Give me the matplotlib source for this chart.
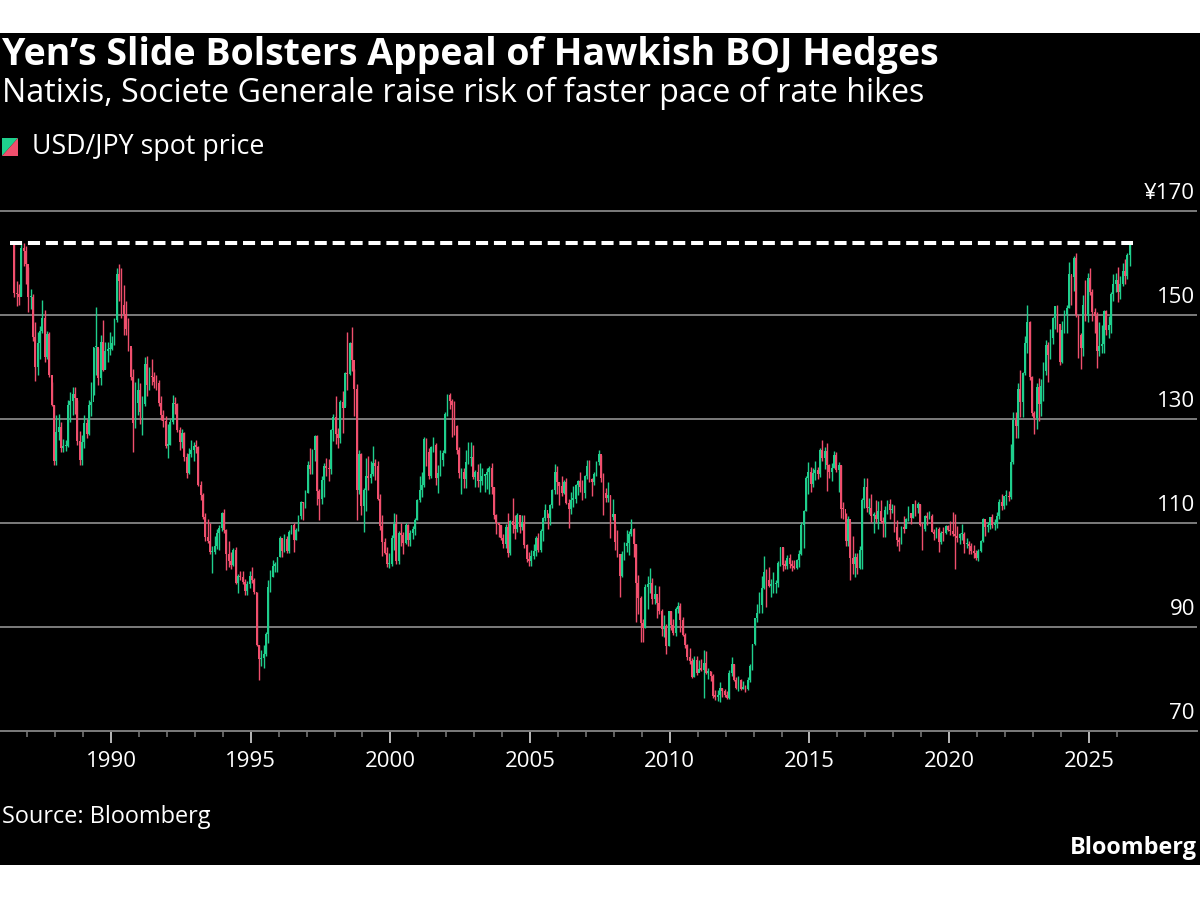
import numpy as np
import matplotlib
matplotlib.use("Agg")
import matplotlib.pyplot as plt
from matplotlib.patches import Rectangle, Polygon
import matplotlib.transforms as mtransforms

# ---------------- data (monthly USD/JPY candles, Jul 1986 - Jun 2026) ----------------
start_year, start_month = 1986, 7
first_open = 163.5

closes = [
    # 1986 (Jul-Dec)
    154.2, 154.0, 153.4, 162.9, 162.4, 159.8,
    # 1987
    153.4, 153.5, 145.8, 140.0, 144.6, 147.0, 149.4, 142.0, 146.4, 138.4, 132.7, 121.9,
    # 1988
    127.5, 128.4, 124.5, 124.8, 124.9, 132.6, 133.5, 134.9, 134.0, 125.7, 122.2, 125.6,
    # 1989
    129.2, 127.2, 132.6, 133.3, 143.8, 143.9, 137.9, 144.8, 139.4, 143.0, 143.4, 143.5,
    # 1990
    144.7, 149.0, 157.9, 156.5, 152.0, 150.2, 147.4, 144.1, 138.0, 129.3, 133.0, 135.5,
    # 1991
    131.4, 132.9, 140.6, 136.6, 138.3, 138.0, 137.2, 137.0, 133.1, 130.7, 129.6, 124.9,
    # 1992
    125.0, 129.5, 133.0, 132.9, 127.8, 125.6, 127.4, 122.6, 119.6, 123.3, 124.1, 124.8,
    # 1993
    124.7, 117.4, 115.4, 111.1, 107.4, 106.5, 104.4, 104.4, 105.5, 108.1, 109.1, 111.9,
    # 1994
    108.7, 104.0, 102.7, 101.9, 104.8, 98.5, 99.8, 99.6, 98.6, 96.9, 98.3, 99.8,
    # 1995
    99.0, 96.7, 86.6, 83.8, 84.0, 84.8, 88.7, 97.6, 99.7, 101.8, 101.8, 103.4,
    # 1996
    107.1, 104.7, 107.0, 104.6, 108.3, 109.6, 106.8, 108.6, 111.4, 114.0, 113.8, 115.8,
    # 1997
    121.2, 120.3, 124.1, 126.8, 116.1, 114.6, 118.3, 121.0, 120.5, 120.4, 127.8, 130.4,
    # 1998
    127.1, 126.4, 133.3, 132.1, 138.8, 138.6, 144.7, 141.4, 135.8, 116.4, 123.3, 113.3,
    # 1999
    116.3, 119.0, 118.6, 119.4, 121.5, 121.0, 114.6, 109.5, 106.4, 104.2, 102.1, 102.1,
    # 2000
    107.2, 109.9, 102.7, 108.1, 107.6, 106.1, 109.7, 106.7, 108.1, 108.9, 110.5, 114.4,
    # 2001
    116.4, 117.4, 126.1, 123.6, 119.0, 124.7, 125.0, 118.7, 119.6, 122.2, 123.5, 131.0,
    # 2002
    134.7, 133.5, 132.7, 128.6, 124.0, 119.6, 119.9, 118.4, 121.8, 122.5, 122.6, 118.8,
    # 2003
    119.8, 118.0, 118.1, 119.1, 119.3, 119.8, 120.5, 116.9, 111.5, 110.0, 109.6, 107.2,
    # 2004
    106.0, 109.2, 104.2, 110.4, 109.6, 108.8, 111.6, 109.3, 110.1, 105.8, 103.1, 102.6,
    # 2005
    103.6, 104.6, 107.2, 104.9, 108.5, 110.9, 112.5, 110.9, 113.5, 116.4, 119.8, 117.8,
    # 2006
    117.2, 115.8, 117.8, 113.8, 112.6, 114.5, 114.6, 117.3, 118.1, 116.9, 115.8, 119.0,
    # 2007
    121.0, 118.5, 117.8, 119.5, 121.7, 123.2, 118.6, 115.8, 114.8, 115.3, 111.2, 111.7,
    # 2008
    106.4, 104.0, 99.8, 104.0, 105.6, 106.2, 107.9, 108.8, 106.0, 98.4, 95.5, 90.8,
    # 2009
    89.9, 97.6, 98.3, 98.5, 95.4, 96.4, 94.7, 93.0, 89.7, 90.2, 86.4, 93.0,
    # 2010
    90.3, 88.9, 93.5, 94.0, 91.3, 88.4, 86.5, 84.2, 83.5, 80.4, 83.7, 81.1,
    # 2011
    82.0, 81.8, 83.1, 81.2, 81.5, 80.6, 76.8, 76.6, 77.0, 78.2, 77.6, 76.9,
    # 2012
    76.3, 81.2, 82.9, 79.8, 78.3, 79.8, 78.1, 78.4, 78.0, 79.9, 82.5, 86.7,
    # 2013
    91.7, 92.6, 94.2, 97.5, 100.5, 99.1, 97.9, 98.2, 98.3, 98.4, 102.4, 105.3,
    # 2014
    102.0, 101.8, 103.2, 102.2, 101.8, 101.3, 102.8, 104.1, 109.7, 112.3, 118.6, 119.8,
    # 2015
    117.5, 119.6, 120.1, 119.4, 124.1, 122.5, 123.9, 121.2, 119.9, 120.6, 123.1, 120.2,
    # 2016
    121.1, 112.7, 112.6, 106.5, 110.7, 103.2, 102.1, 103.4, 101.4, 104.8, 114.5, 116.9,
    # 2017
    112.8, 112.8, 111.4, 111.5, 110.8, 112.4, 110.3, 110.0, 112.5, 113.6, 112.5, 112.7,
    # 2018
    109.2, 106.7, 106.3, 109.3, 108.8, 110.8, 111.9, 111.0, 113.7, 112.9, 113.6, 109.7,
    # 2019
    108.9, 111.4, 110.9, 111.4, 108.3, 107.9, 108.8, 106.3, 108.1, 108.0, 109.5, 108.6,
    # 2020
    108.4, 107.9, 107.5, 107.2, 107.8, 107.9, 105.9, 105.9, 105.5, 104.7, 104.3, 103.3,
    # 2021
    104.7, 106.6, 110.7, 109.3, 109.6, 111.1, 109.7, 110.0, 111.3, 114.0, 113.2, 115.1,
    # 2022
    115.1, 115.0, 121.7, 129.8, 128.7, 135.7, 133.3, 138.9, 144.7, 148.7, 138.1, 131.1,
    # 2023
    130.1, 136.2, 132.9, 136.3, 139.3, 144.3, 142.3, 145.5, 149.4, 151.7, 148.2, 141.0,
    # 2024
    147.2, 150.0, 151.3, 157.8, 157.3, 160.9, 150.0, 146.2, 143.6, 152.0, 149.8, 157.2,
    # 2025
    154.5, 150.6, 149.9, 143.1, 144.0, 144.5, 150.8, 147.1, 148.0, 154.0, 156.0, 156.8,
    # 2026 (Jan-Jun)
    154.5, 156.0, 158.5, 157.5, 161.5, 163.8,
]

highs = [
    # 1986
    163.8, 156.5, 156.0, 163.6, 163.9, 163.2,
    # 1987
    159.3, 155.0, 154.0, 148.6, 146.8, 147.8, 152.9, 151.0, 147.0, 146.8, 137.2, 132.7,
    # 1988
    130.8, 131.0, 129.5, 126.2, 126.0, 133.7, 135.2, 136.2, 136.2, 133.7, 127.6, 127.0,
    # 1989
    130.8, 130.0, 133.7, 137.2, 143.9, 151.6, 143.6, 146.2, 149.1, 144.9, 144.9, 146.8,
    # 1990
    146.0, 149.4, 159.0, 159.9, 159.0, 155.8, 152.6, 149.4, 143.6, 139.7, 137.2, 137.8,
    # 1991
    137.0, 134.5, 142.0, 142.2, 140.0, 141.5, 139.0, 138.5, 137.5, 134.5, 131.8, 130.5,
    # 1992
    129.0, 130.0, 134.7, 134.3, 133.0, 128.5, 128.0, 127.5, 123.5, 124.5, 126.0, 125.5,
    # 1993
    125.9, 124.9, 118.0, 115.8, 112.0, 110.7, 110.0, 105.6, 107.5, 108.8, 109.7, 112.2,
    # 1994
    112.7, 108.9, 106.5, 104.5, 105.2, 105.4, 100.2, 100.8, 100.7, 99.2, 98.8, 100.8,
    # 1995
    101.5, 99.5, 96.8, 86.6, 85.5, 86.5, 89.0, 99.0, 101.0, 102.8, 102.5, 103.5,
    # 1996
    107.5, 107.0, 107.9, 107.5, 108.7, 109.7, 110.0, 109.0, 111.5, 114.3, 114.0, 116.3,
    # 1997
    122.0, 124.5, 124.2, 127.0, 127.0, 116.5, 119.0, 121.5, 122.5, 122.3, 128.0, 131.0,
    # 1998
    134.4, 128.3, 133.7, 135.3, 139.0, 146.8, 144.9, 147.6, 139.6, 136.8, 124.0, 123.5,
    # 1999
    116.8, 122.5, 122.8, 122.0, 124.8, 122.3, 122.0, 115.6, 111.6, 107.2, 105.4, 104.2,
    # 2000
    107.6, 112.0, 111.8, 108.4, 110.0, 108.2, 110.0, 109.9, 108.6, 109.5, 111.0, 114.6,
    # 2001
    119.0, 119.9, 126.6, 126.4, 124.4, 124.9, 126.6, 125.3, 121.2, 124.0, 124.0, 131.3,
    # 2002
    134.8, 135.0, 133.8, 133.5, 128.8, 124.7, 120.5, 120.5, 124.0, 125.5, 125.5, 125.0,
    # 2003
    120.2, 121.3, 121.5, 120.5, 119.5, 120.5, 121.0, 121.6, 117.0, 111.8, 110.0, 109.7,
    # 2004
    107.8, 109.8, 112.0, 110.6, 114.9, 111.6, 112.0, 111.5, 111.6, 111.6, 106.0, 104.4,
    # 2005
    104.9, 106.0, 107.5, 108.0, 108.8, 111.2, 113.7, 112.0, 113.7, 116.6, 121.4, 121.0,
    # 2006
    117.9, 119.0, 118.2, 118.7, 114.6, 116.0, 117.1, 117.5, 118.3, 119.9, 118.2, 119.2,
    # 2007
    122.2, 122.2, 118.6, 119.9, 121.9, 124.1, 123.0, 119.6, 116.7, 117.9, 115.4, 114.7,
    # 2008
    109.7, 108.6, 104.0, 104.7, 106.4, 108.7, 108.5, 110.7, 109.0, 106.0, 100.0, 96.0,
    # 2009
    91.5, 98.2, 99.8, 101.4, 99.4, 98.0, 95.7, 97.8, 93.4, 92.3, 90.6, 93.0,
    # 2010
    93.0, 91.5, 93.8, 94.8, 94.7, 92.0, 88.9, 86.7, 85.9, 84.0, 84.4, 84.5,
    # 2011
    83.7, 83.8, 85.5, 85.4, 82.2, 81.6, 81.0, 77.9, 77.9, 79.5, 78.3, 78.1,
    # 2012
    77.6, 81.7, 84.2, 82.9, 80.4, 80.6, 80.0, 79.7, 78.8, 80.4, 82.8, 86.8,
    # 2013
    91.8, 94.5, 96.7, 99.9, 103.7, 101.2, 101.5, 99.2, 100.6, 99.0, 102.6, 105.4,
    # 2014
    105.4, 102.8, 103.8, 104.1, 102.8, 102.8, 103.1, 104.8, 110.1, 112.5, 119.0, 121.8,
    # 2015
    120.8, 120.5, 122.0, 120.8, 124.5, 125.9, 124.6, 125.3, 121.3, 121.5, 123.8, 123.6,
    # 2016
    121.7, 121.1, 114.0, 112.0, 111.4, 110.0, 107.5, 104.3, 104.2, 105.5, 114.8, 118.7,
    # 2017
    118.6, 114.9, 115.5, 112.2, 114.4, 114.2, 114.5, 111.1, 113.3, 114.5, 114.7, 113.7,
    # 2018
    113.4, 110.5, 107.3, 109.5, 111.4, 110.9, 113.2, 111.8, 113.7, 114.5, 114.0, 113.7,
    # 2019
    110.0, 111.5, 112.1, 112.4, 111.7, 108.8, 109.3, 109.3, 108.5, 109.3, 109.7, 109.7,
    # 2020
    110.3, 112.2, 111.7, 109.4, 108.1, 109.9, 108.2, 107.1, 106.6, 106.1, 105.7, 104.8,
    # 2021
    105.0, 106.7, 110.9, 110.0, 110.2, 111.1, 111.7, 110.8, 112.1, 114.7, 115.5, 115.2,
    # 2022
    116.3, 116.2, 125.1, 131.3, 131.3, 137.0, 139.4, 139.1, 145.9, 151.9, 148.8, 138.2,
    # 2023
    131.6, 136.9, 137.9, 137.6, 140.9, 145.1, 144.9, 147.4, 149.7, 151.7, 151.9, 148.0,
    # 2024
    148.8, 150.9, 151.9, 160.2, 157.7, 161.3, 161.9, 150.0, 146.5, 153.9, 156.8, 158.1,
    # 2025
    159.0, 155.0, 151.3, 150.5, 148.6, 148.0, 151.0, 150.9, 149.9, 154.5, 157.9, 158.0,
    # 2026
    159.2, 157.5, 160.0, 160.7, 162.0, 163.9,
]

lows = [
    # 1986
    153.5, 151.8, 151.9, 153.6, 159.5, 156.0,
    # 1987
    150.5, 151.2, 145.0, 137.3, 138.5, 141.5, 146.5, 141.0, 141.5, 138.0, 132.5, 121.2,
    # 1988
    121.2, 126.0, 123.7, 123.7, 123.8, 124.6, 129.5, 130.8, 131.0, 125.0, 121.2, 121.2,
    # 1989
    124.4, 126.3, 127.0, 130.5, 134.6, 138.5, 136.5, 136.5, 139.3, 139.7, 141.0, 142.3,
    # 1990
    143.3, 144.2, 148.7, 152.6, 149.4, 146.2, 146.2, 143.0, 137.5, 123.7, 128.2, 130.8,
    # 1991
    129.0, 127.0, 132.5, 134.5, 135.5, 136.5, 136.0, 135.5, 132.5, 129.8, 128.5, 124.5,
    # 1992
    122.5, 125.0, 129.0, 131.0, 127.5, 124.0, 124.5, 122.0, 118.6, 119.5, 122.7, 122.0,
    # 1993
    123.5, 117.2, 114.4, 110.8, 106.5, 106.2, 104.0, 100.4, 104.0, 105.0, 104.9, 108.5,
    # 1994
    108.0, 101.0, 101.5, 101.2, 101.8, 98.2, 96.6, 99.0, 98.2, 96.2, 96.1, 97.5,
    # 1995
    98.4, 96.4, 86.3, 79.8, 82.5, 82.1, 84.4, 87.0, 96.8, 99.7, 100.5, 100.5,
    # 1996
    103.4, 103.5, 104.4, 104.2, 104.3, 107.8, 104.5, 106.7, 108.4, 110.8, 110.6, 112.8,
    # 1997
    115.7, 119.5, 119.5, 122.0, 113.5, 110.5, 113.6, 115.0, 119.0, 118.0, 119.5, 125.8,
    # 1998
    125.1, 124.5, 125.4, 127.4, 132.5, 135.5, 138.5, 139.2, 130.5, 110.5, 115.5, 111.6,
    # 1999
    108.3, 112.3, 116.3, 117.6, 119.0, 118.3, 114.5, 108.6, 103.6, 104.0, 101.6, 101.3,
    # 2000
    101.8, 104.9, 102.2, 102.1, 105.5, 104.0, 105.9, 105.5, 105.6, 106.9, 107.6, 110.5,
    # 2001
    114.0, 115.0, 117.0, 120.9, 118.5, 118.6, 123.6, 117.3, 115.8, 119.0, 121.0, 123.5,
    # 2002
    130.5, 132.0, 126.5, 127.0, 123.3, 118.7, 115.5, 116.7, 116.8, 121.4, 121.0, 118.4,
    # 2003
    117.0, 116.9, 115.9, 117.4, 115.9, 116.5, 115.5, 115.5, 110.8, 107.9, 107.3, 106.7,
    # 2004
    105.1, 105.2, 103.4, 103.9, 108.1, 106.9, 108.2, 108.1, 108.7, 105.1, 102.5, 101.8,
    # 2005
    101.7, 103.1, 103.6, 104.4, 104.4, 106.6, 110.4, 108.8, 109.6, 112.9, 115.5, 115.5,
    # 2006
    113.4, 115.2, 115.6, 113.7, 109.0, 111.8, 113.0, 113.8, 115.4, 115.9, 114.4, 114.9,
    # 2007
    118.5, 117.8, 115.2, 117.4, 119.0, 121.1, 117.8, 111.6, 114.1, 114.0, 107.2, 110.5,
    # 2008
    104.9, 103.5, 95.8, 99.7, 102.8, 104.5, 103.8, 107.5, 103.5, 90.9, 92.5, 87.1,
    # 2009
    87.1, 89.8, 93.5, 96.5, 94.5, 94.4, 91.7, 92.5, 88.2, 88.0, 84.8, 86.4,
    # 2010
    89.4, 88.5, 88.2, 92.7, 89.0, 88.2, 86.0, 83.6, 82.9, 80.2, 80.4, 80.8,
    # 2011
    81.6, 81.5, 76.3, 81.0, 80.0, 79.6, 76.3, 75.9, 75.8, 75.5, 76.6, 76.5,
    # 2012
    76.1, 76.1, 80.6, 79.6, 78.0, 77.7, 77.9, 78.0, 77.5, 77.9, 79.4, 81.7,
    # 2013
    86.6, 90.9, 92.6, 92.6, 97.3, 93.8, 97.6, 95.8, 96.5, 96.6, 97.6, 101.7,
    # 2014
    100.8, 101.2, 101.2, 101.4, 100.8, 101.1, 101.1, 101.5, 103.8, 105.2, 112.3, 115.6,
    # 2015
    115.9, 116.9, 118.3, 118.5, 118.9, 122.0, 120.4, 116.2, 118.7, 118.1, 120.6, 119.9,
    # 2016
    115.9, 110.9, 110.7, 105.6, 105.5, 99.0, 100.2, 99.6, 100.1, 101.2, 101.2, 112.9,
    # 2017
    112.1, 111.7, 110.1, 108.1, 110.2, 108.8, 110.0, 107.3, 107.3, 111.7, 110.8, 111.9,
    # 2018
    108.3, 105.6, 104.6, 105.9, 108.1, 109.1, 110.3, 109.8, 110.9, 111.4, 111.9, 109.5,
    # 2019
    104.8, 108.5, 109.7, 110.8, 108.3, 106.8, 107.2, 104.5, 106.0, 106.5, 107.9, 108.4,
    # 2020
    107.7, 107.5, 101.2, 106.4, 106.0, 106.7, 104.2, 105.1, 104.0, 104.0, 103.2, 102.9,
    # 2021
    102.6, 104.4, 106.3, 107.5, 108.3, 108.8, 109.1, 108.7, 109.1, 110.8, 112.5, 112.6,
    # 2022
    113.5, 114.2, 114.7, 121.3, 126.4, 126.4, 130.4, 130.4, 138.4, 142.7, 137.5, 130.6,
    # 2023
    127.2, 128.1, 129.6, 130.6, 133.5, 138.4, 137.2, 141.5, 144.4, 147.3, 146.7, 140.3,
    # 2024
    140.8, 146.5, 146.5, 151.4, 151.9, 154.6, 149.6, 141.7, 139.6, 142.1, 148.9, 148.6,
    # 2025
    153.8, 148.9, 146.5, 139.9, 142.1, 142.7, 142.7, 146.2, 145.5, 146.6, 152.7, 154.5,
    # 2026
    152.5, 153.0, 155.5, 155.9, 157.0, 159.5,
]

y_ticks = [70, 90, 110, 130, 150, 170]
y_tick_labels = ["70", "90", "110", "130", "150", "¥170"]
x_major_years = [1990, 1995, 2000, 2005, 2010, 2015, 2020, 2025]
x_minor_years = list(range(1987, 2027))

title = "Yen’s Slide Bolsters Appeal of Hawkish BOJ Hedges"
subtitle = "Natixis, Societe Generale raise risk of faster pace of rate hikes"
legend_label = "USD/JPY spot price"
source = "Source: Bloomberg"
brand = "Bloomberg"

# ---------------- styling ----------------
GREEN = "#1fcf8d"
RED = "#f04f6d"
GRID = "#7c7c7c"
FONT = ["Open Sans", "DejaVu Sans"]
plt.rcParams["font.family"] = FONT

W, H = 1200, 900
fig = plt.figure(figsize=(W / 100, H / 100), dpi=100, facecolor="white")


def fx(px):
    return px / W


def fy(py):
    return 1 - py / H


# black panel
fig.add_artist(Rectangle((0, fy(865)), 1, fy(33) - fy(865), transform=fig.transFigure,
                         facecolor="black", edgecolor="none", zorder=0))

ax_left, ax_right = 0, 1197
ax_top, ax_bottom = 185, 731
ax = fig.add_axes([fx(ax_left), fy(ax_bottom), fx(ax_right - ax_left), (ax_bottom - ax_top) / H])
ax.set_facecolor("none")

# x range in decimal years from pixel geometry (1990 at x=111, 27.94 px / year)
px_per_year = 27.94
x0 = 1990 - (111 - ax_left) / px_per_year
x1 = 1990 + (ax_right - 111) / px_per_year
ax.set_xlim(x0, x1)
ax.set_ylim(70, 70 + (ax_bottom - ax_top) / 5.2)

n = len(closes)
xs = np.array([start_year + (start_month - 1 + i + 0.5) / 12 for i in range(n)])
c = np.array(closes)
o = np.array([first_open] + closes[:-1])
hi = np.array(highs)
lo = np.array(lows)
cols = np.where(c >= o, GREEN, RED)

# grid
for v in y_ticks[1:]:
    ax.axhline(v, color=GRID, lw=1.4, zorder=1)

ax.vlines(xs, lo, hi, colors=cols, lw=1.0, zorder=3)
body_b = np.minimum(o, c)
body_h = np.maximum(np.abs(c - o), 0.25)
ax.bar(xs, body_h, bottom=body_b, width=0.064, color=cols, linewidth=0, zorder=3)

# dashed line at the series' prior high
level = max(highs)
ax.plot([xs[0] - 0.15, xs[-1] + 0.12], [level, level], color="white", lw=2.9,
        dashes=(3.0, 1.45), dash_capstyle="butt", zorder=4)

# y labels on the right, above gridlines
trans = mtransforms.blended_transform_factory(ax.transAxes, ax.transData)
off = mtransforms.ScaledTranslation(-2 / 100, 12 / 100, fig.dpi_scale_trans)
for v, lab in zip(y_ticks, y_tick_labels):
    ax.text(1.0, v, lab, transform=trans + off, ha="right", va="baseline",
            color="white", fontsize=16)

# spines / ticks
for s in ["top", "right", "left"]:
    ax.spines[s].set_visible(False)
ax.spines["bottom"].set_color(GRID)
ax.spines["bottom"].set_linewidth(1.4)
ax.set_yticks([])
ax.set_xticks(x_major_years)
ax.set_xticklabels([str(y) for y in x_major_years])
ax.set_xticks([y for y in x_minor_years if y not in x_major_years], minor=True)
ax.tick_params(axis="x", which="major", length=8.5, width=1.2, color="#d8d8d8",
               labelcolor="white", labelsize=16, pad=6)
ax.tick_params(axis="x", which="minor", length=4.5, width=1.1, color=GRID)

# texts (font size fitted to the reference text widths)
renderer = fig.canvas.get_renderer()


def fitted_text(xp, yp, s, width_px, size, **kw):
    t = fig.text(fx(xp), fy(yp), s, color="white", va="center", fontsize=size, **kw)
    w = t.get_window_extent(renderer).width
    t.set_fontsize(size * width_px / w)
    return t


fitted_text(2, 55, title, 938, 26, ha="left", fontweight="bold")
fitted_text(2, 93, subtitle, 923, 22, ha="left")
fitted_text(32, 147, legend_label, 232, 18, ha="left")
fitted_text(2, 817, source, 209, 16.5, ha="left")
fitted_text(1197, 848, brand, 127, 17, ha="right", fontweight="bold")

# legend swatch (diagonal green/red square)
sx0, sx1, sy0, sy1 = 2, 18, 138, 156
fig.add_artist(Polygon([(fx(sx0), fy(sy0)), (fx(sx1), fy(sy0)), (fx(sx0), fy(sy1))],
                       closed=True, transform=fig.transFigure, facecolor=GREEN, edgecolor="none"))
fig.add_artist(Polygon([(fx(sx1), fy(sy0)), (fx(sx1), fy(sy1)), (fx(sx0), fy(sy1))],
                       closed=True, transform=fig.transFigure, facecolor=RED, edgecolor="none"))

fig.savefig("out.png", dpi=100, facecolor="white")
